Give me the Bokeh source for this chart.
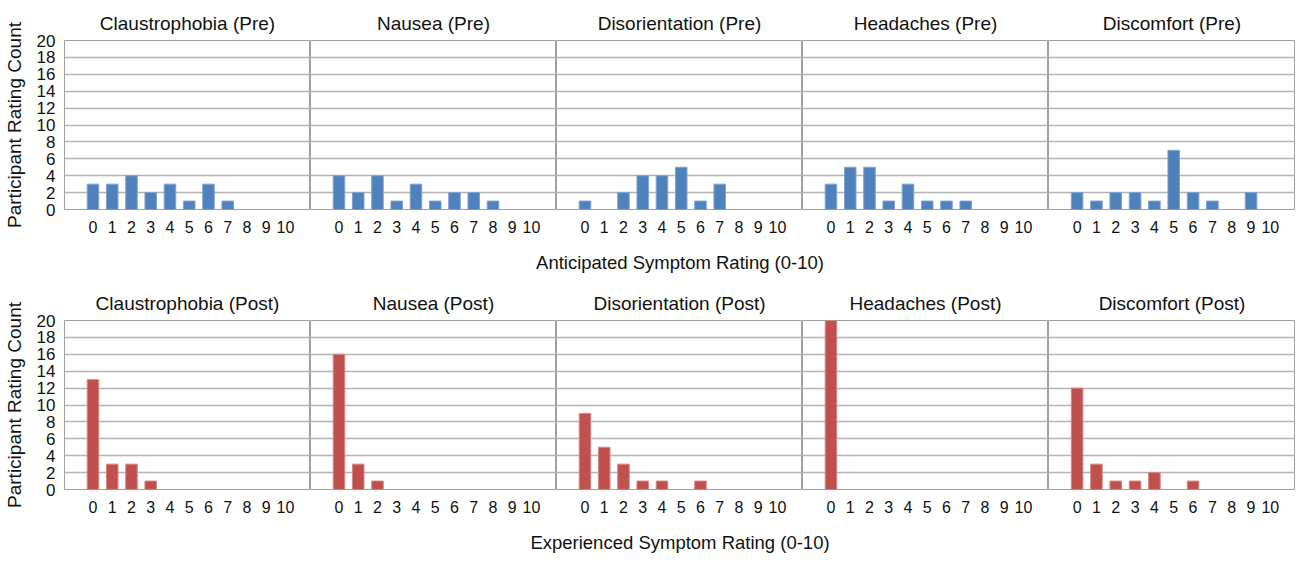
from bokeh.plotting import figure
from bokeh.layouts import column, row
from bokeh.models import Range1d, FixedTicker, Title, Label
from bokeh.embed import file_html
from bokeh.resources import INLINE

ratings = list(range(11))
symptoms = ["Claustrophobia", "Nausea", "Disorientation", "Headaches", "Discomfort"]

pre_claustrophobia = [3, 3, 4, 2, 3, 1, 3, 1, 0, 0, 0]
pre_nausea = [4, 2, 4, 1, 3, 1, 2, 2, 1, 0, 0]
pre_disorientation = [1, 0, 2, 4, 4, 5, 1, 3, 0, 0, 0]
pre_headaches = [3, 5, 5, 1, 3, 1, 1, 1, 0, 0, 0]
pre_discomfort = [2, 1, 2, 2, 1, 7, 2, 1, 0, 2, 0]

post_claustrophobia = [13, 3, 3, 1, 0, 0, 0, 0, 0, 0, 0]
post_nausea = [16, 3, 1, 0, 0, 0, 0, 0, 0, 0, 0]
post_disorientation = [9, 5, 3, 1, 1, 0, 1, 0, 0, 0, 0]
post_headaches = [20, 0, 0, 0, 0, 0, 0, 0, 0, 0, 0]
post_discomfort = [12, 3, 1, 1, 2, 0, 1, 0, 0, 0, 0]

pre_values = [pre_claustrophobia, pre_nausea, pre_disorientation, pre_headaches, pre_discomfort]
post_values = [post_claustrophobia, post_nausea, post_disorientation, post_headaches, post_discomfort]

y_ticks = list(range(0, 21, 2))
x_label_pre = "Anticipated Symptom Rating (0-10)"
x_label_post = "Experienced Symptom Rating (0-10)"
y_label = "Participant Rating Count"

FONT = "Liberation Sans"
TXT = "#111111"
FRAME_WS = [246, 246, 246, 246, 247]
FRAME_H = 169
LEFT = 64


def make_panel(idx, title, vals, color, edge, top_border, bottom_border):
    first = idx == 0
    w = FRAME_WS[idx] + (LEFT if first else 0)
    h = top_border + FRAME_H + bottom_border
    p = figure(width=w, height=h, output_backend="svg", toolbar_location=None,
               x_range=Range1d(-1.48, 11.3), y_range=Range1d(0, 20),
               min_border_left=LEFT if first else 0, min_border_right=0,
               min_border_top=top_border, min_border_bottom=bottom_border)
    p.title = Title(text=title, align="center", text_font=FONT, text_font_size="19px",
                    text_font_style="normal", text_color=TXT, standoff=13)
    p.vbar(x=ratings, top=vals, width=0.6, bottom=0, fill_color=color, line_color=edge, line_width=1)
    p.xaxis.ticker = FixedTicker(ticks=ratings)
    p.xaxis.major_label_text_font = FONT
    p.xaxis.major_label_text_font_size = "16px"
    p.xaxis.major_label_text_color = TXT
    p.xaxis.major_tick_line_color = None
    p.xaxis.minor_tick_line_color = None
    p.xaxis.axis_line_color = None
    p.xaxis.major_tick_out = 0
    p.xaxis.major_tick_in = 0
    p.xaxis.major_label_standoff = 11
    p.xgrid.grid_line_color = None
    p.yaxis.ticker = FixedTicker(ticks=y_ticks)
    p.ygrid.ticker = FixedTicker(ticks=y_ticks)
    p.ygrid.grid_line_color = "#b4b4b4"
    p.ygrid.grid_line_width = 1.5
    if first:
        p.yaxis.major_label_text_font = FONT
        p.yaxis.major_label_text_font_size = "17px"
        p.yaxis.major_label_text_color = TXT
        p.yaxis.major_tick_line_color = None
        p.yaxis.minor_tick_line_color = None
        p.yaxis.axis_line_color = None
        p.yaxis.major_tick_out = 0
        p.yaxis.major_tick_in = 0
        p.yaxis.major_label_standoff = 9
        p.yaxis.axis_label = y_label
        p.yaxis.axis_label_text_font = FONT
        p.yaxis.axis_label_text_font_size = "19px"
        p.yaxis.axis_label_text_font_style = "normal"
        p.yaxis.axis_label_text_color = TXT
        p.yaxis.axis_label_standoff = 9
    else:
        p.yaxis.visible = False
    p.outline_line_color = "#a0a0a0"
    p.outline_line_width = 1
    p.background_fill_color = "white"
    p.border_fill_color = "white"
    return p


def make_label(text, h, y_center):
    total_w = LEFT + sum(FRAME_WS)
    p = figure(width=total_w, height=h, output_backend="svg", toolbar_location=None,
               x_range=Range1d(0, 1), y_range=Range1d(0, h),
               min_border_left=LEFT, min_border_right=0, min_border_top=0, min_border_bottom=0)
    p.xaxis.visible = False
    p.yaxis.visible = False
    p.grid.grid_line_color = None
    p.outline_line_color = None
    p.add_layout(Label(x=0.5, y=h - y_center, text=text, text_align="center", text_baseline="middle",
                       text_font=FONT, text_font_size="18.5px", text_color=TXT))
    return p


top_panels = [make_panel(i, f"{s} (Pre)", pre_values[i], "#4f81bd", "#7fa3d3", 40, 30)
              for i, s in enumerate(symptoms)]
bottom_panels = [make_panel(i, f"{s} (Post)", post_values[i], "#c0504d", "#d98583", 38, 30)
                 for i, s in enumerate(symptoms)]

layout = column(
    row(*top_panels, spacing=0),
    make_label(x_label_pre, 43, 23),
    row(*bottom_panels, spacing=0),
    make_label(x_label_post, 35, 23),
    spacing=0,
)

open("out.html", "w").write(file_html(layout, INLINE))
